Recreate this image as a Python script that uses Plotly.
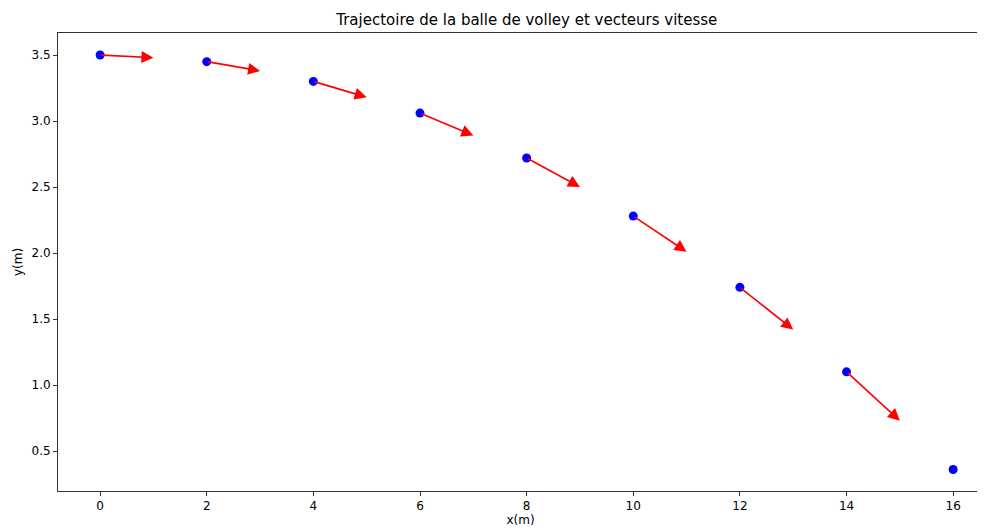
import plotly.graph_objects as go

x_pos = [0, 2, 4, 6, 8, 10, 12, 14, 16]
y_pos = [3.50, 3.45, 3.30, 3.06, 2.72, 2.28, 1.74, 1.10, 0.36]
vx = [1, 1, 1, 1, 1, 1, 1, 1]
vy = [-0.02, -0.07, -0.12, -0.17, -0.22, -0.27, -0.32, -0.37]
x_ticks = [0, 2, 4, 6, 8, 10, 12, 14, 16]
y_ticks = [0.5, 1.0, 1.5, 2.0, 2.5, 3.0, 3.5]

fig = go.Figure()
fig.add_trace(go.Scatter(x=x_pos, y=y_pos, mode="markers",
                         marker=dict(color="blue", size=9), showlegend=False))

for i in range(len(vx)):
    fig.add_annotation(x=x_pos[i] + vx[i], y=y_pos[i] + vy[i],
                       ax=x_pos[i], ay=y_pos[i], xref="x", yref="y", axref="x", ayref="y",
                       showarrow=True, arrowhead=2, arrowsize=1.5, arrowwidth=1.6,
                       arrowcolor="red", text="")

axis_common = dict(showline=True, linecolor="#333333", linewidth=1, mirror=True,
                   ticks="outside", ticklen=4, tickcolor="#333333", showgrid=False,
                   zeroline=False, automargin=False,
                   tickfont=dict(size=12, color="black"))

# page has an 8px body margin, so the figure is sized to fit the window
fig.update_layout(
    width=977, height=521,
    plot_bgcolor="white", paper_bgcolor="white",
    font=dict(family="DejaVu Sans", color="black"),
    margin=dict(l=50, r=2, t=25, b=38),
    title=dict(text="Trajectoire de la balle de volley et vecteurs vitesse",
               x=0.531, xanchor="center", y=0.977, yanchor="middle",
               font=dict(size=15)),
    xaxis=dict(range=[-0.79, 16.56], tickvals=x_ticks,
               ticktext=[str(t) for t in x_ticks],
               title=dict(text="x(m)", standoff=0, font=dict(size=12)), **axis_common),
    yaxis=dict(range=[0.197, 3.667], tickvals=y_ticks,
               ticktext=[f"{t:.1f}" for t in y_ticks],
               title=dict(text="y(m)", standoff=6, font=dict(size=12)), **axis_common),
)

fig.write_html("out.html")
